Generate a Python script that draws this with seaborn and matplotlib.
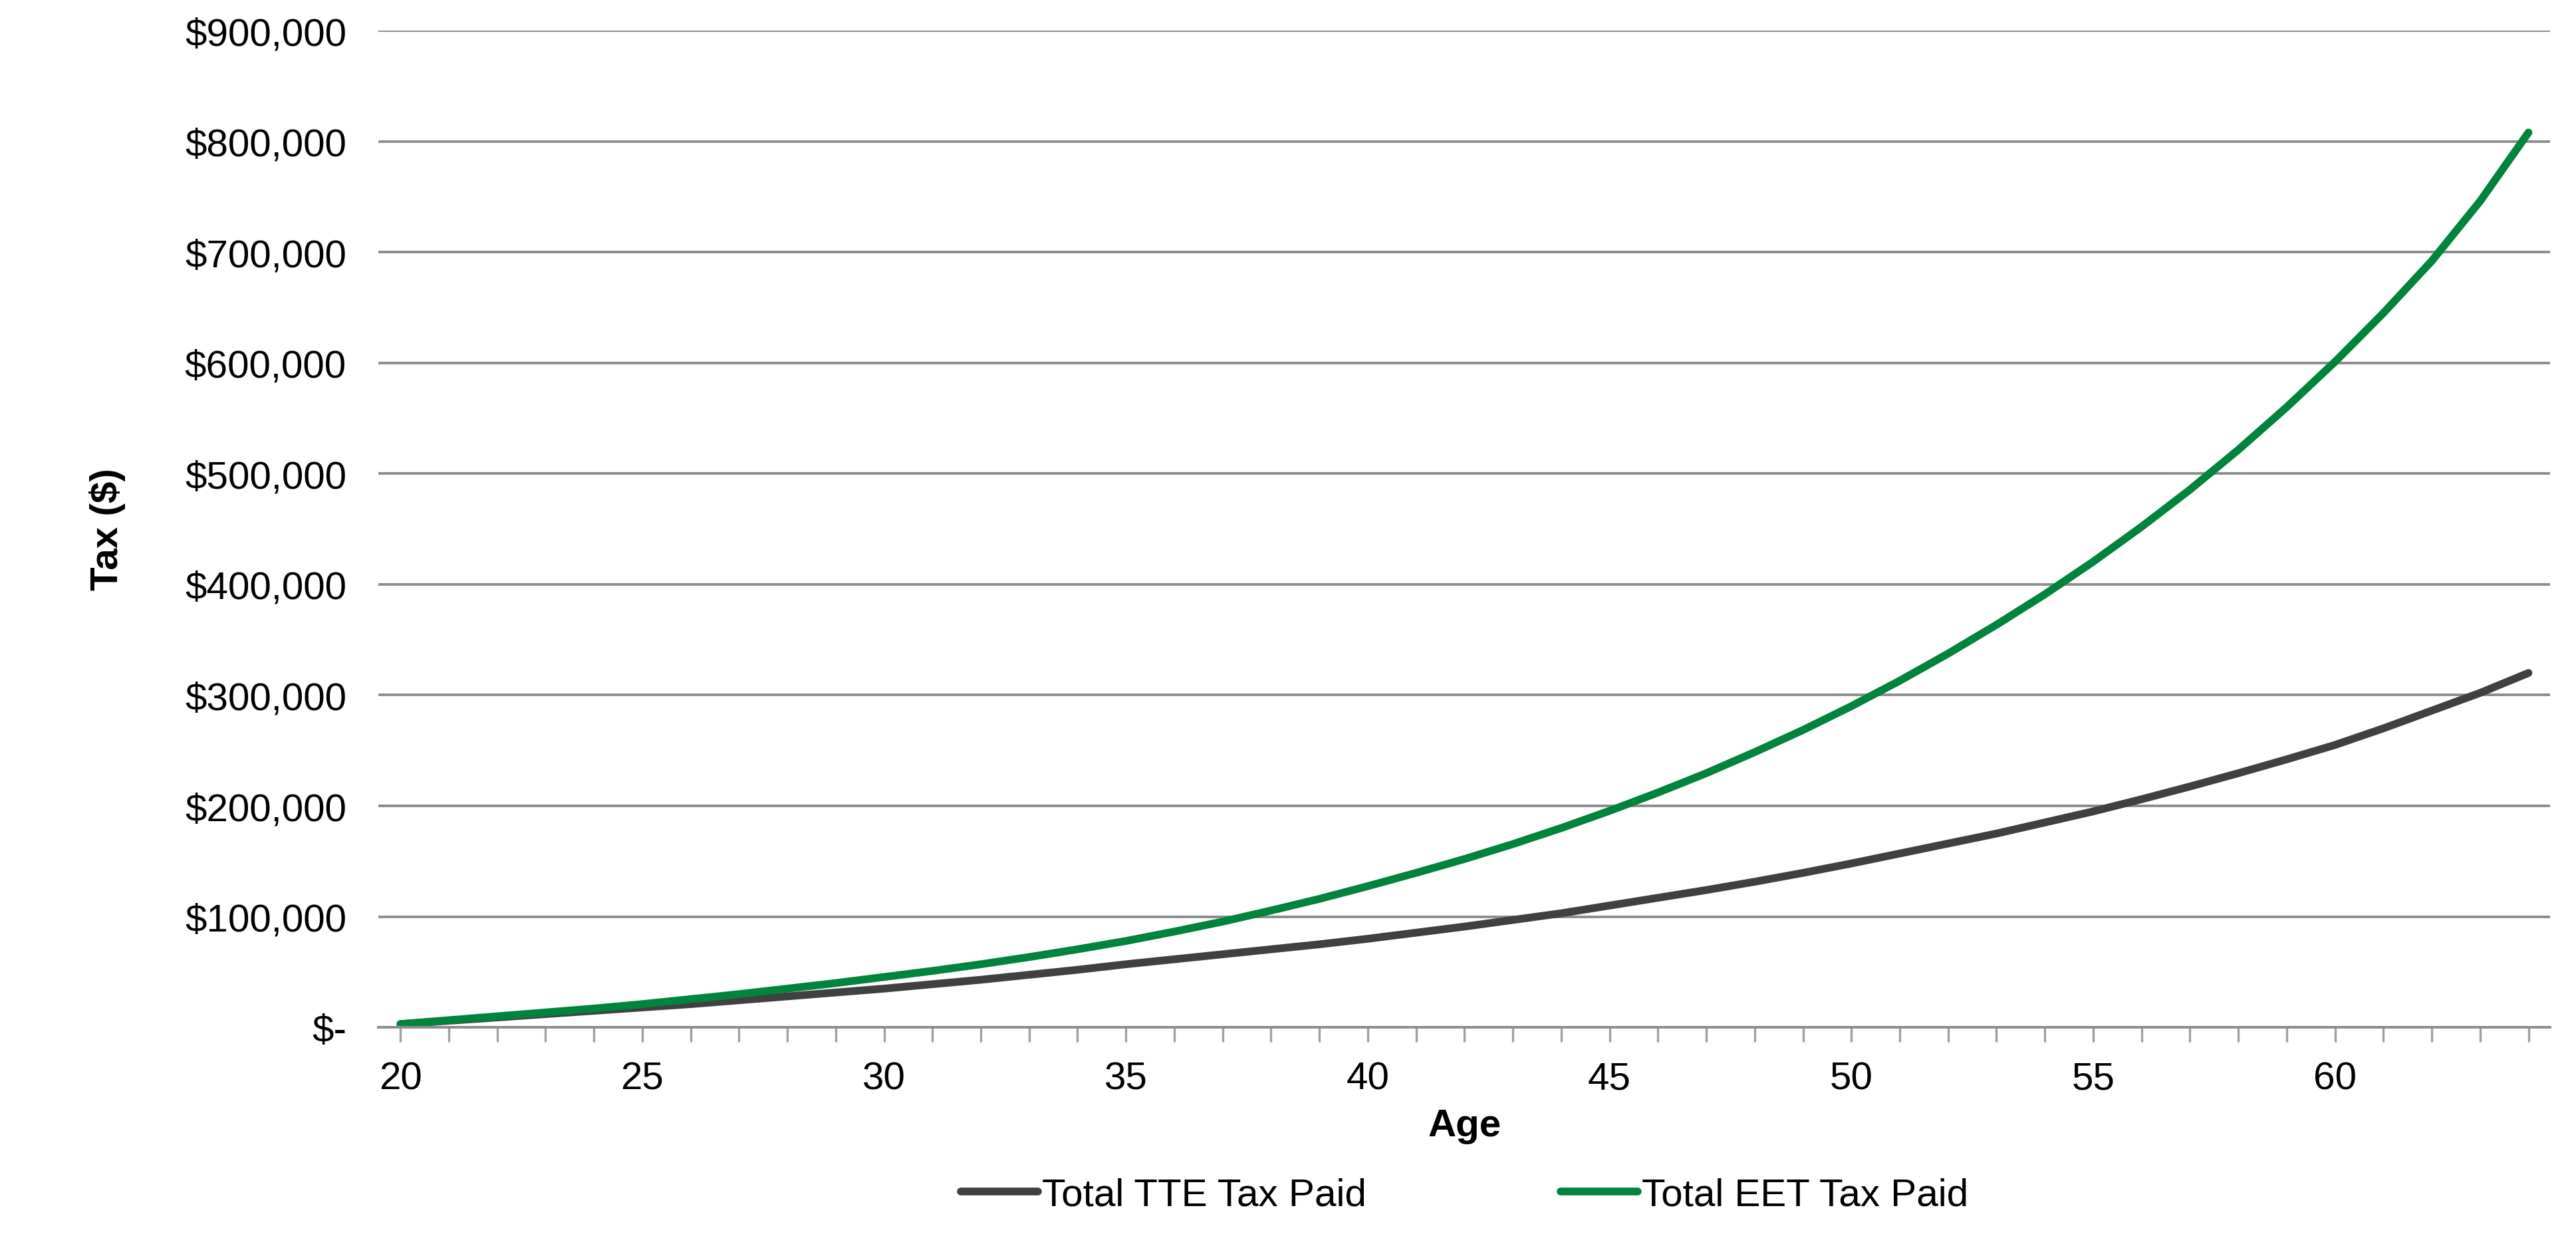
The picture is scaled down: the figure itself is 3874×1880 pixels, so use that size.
import matplotlib
matplotlib.use("Agg")
import matplotlib.pyplot as plt
import seaborn as sns
import pandas as pd
from matplotlib.ticker import FuncFormatter, MultipleLocator

ages = list(range(20, 65))
tte = [3000, 6000, 9000, 12000, 15000, 18000, 21000, 24500, 28000, 31500, 35000, 39000, 43000, 47500, 52000,
       57000, 61500, 66000, 70500, 75000, 80000, 85500, 91000, 97000, 103000, 110000, 117000, 124000, 131500,
       139500, 148000, 157000, 166000, 175000, 185000, 195000, 206000, 217500, 229500, 242000, 255000, 270000,
       286000, 302000, 320000]
eet = [3000, 6500, 10000, 13500, 17000, 21000, 25500, 30000, 35000, 40000, 45500, 51000, 57000, 63500, 70500,
       78000, 86500, 95500, 105500, 116000, 127500, 139500, 152000, 165500, 180000, 195500, 212000, 229500,
       248500, 268500, 290000, 313000, 337500, 363500, 391000, 420500, 452000, 485500, 521500, 560000, 601000,
       645000, 692000, 746000, 808000]
series_names = ["Total TTE Tax Paid", "Total EET Tax Paid"]
colors = ["#404040", "#00843D"]

df = pd.DataFrame({"Age": ages * 2, "Tax": tte + eet,
                   "Series": [series_names[0]] * len(ages) + [series_names[1]] * len(ages)})

sns.set_style("white")
plt.rcParams["font.family"] = ["Liberation Sans", "DejaVu Sans"]
plt.rcParams["text.color"] = "black"
fig = plt.figure(figsize=(19.37, 9.405), dpi=200)
ax = fig.add_axes([0.147, 0.178, 0.843, 0.797])
sns.lineplot(data=df, x="Age", y="Tax", hue="Series", palette=colors, linewidth=4.2, ax=ax,
             solid_capstyle="round", solid_joinstyle="round")
ax.set_xlim(19.55, 64.45)
ax.set_ylim(0, 900000)
ax.yaxis.set_major_locator(MultipleLocator(100000))
ax.yaxis.set_major_formatter(FuncFormatter(lambda v, p: "$-" if v == 0 else f"${v:,.0f}"))
ax.xaxis.set_major_locator(MultipleLocator(5))
ax.xaxis.set_minor_locator(MultipleLocator(1))
ax.grid(axis="y", color="#8c8c8c", linewidth=1.4)
for s in ["top", "right", "left"]:
    ax.spines[s].set_visible(False)
ax.spines["bottom"].set_color("#8c8c8c")
ax.spines["bottom"].set_linewidth(1.4)
ax.tick_params(axis="x", which="both", bottom=True, direction="out", length=8, color="#a0a0a0",
               width=1.2, labelsize=21, pad=10, labelcolor="black")
ax.tick_params(axis="y", left=False, labelsize=21, pad=14, labelcolor="black")
ax.set_xlabel("Age", fontsize=21, fontweight="bold", labelpad=6, color="black")
ax.set_ylabel("Tax ($)", fontsize=21, fontweight="bold", labelpad=32, color="black")
ax.legend(loc="upper center", bbox_to_anchor=(0.5, -0.115), ncol=2, frameon=False, fontsize=21,
          handlelength=2.0, columnspacing=5, handletextpad=0.1)
fig.savefig("out.png", dpi=200)
